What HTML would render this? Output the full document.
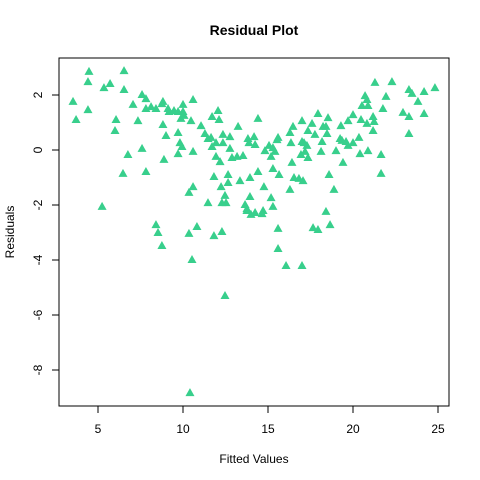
<!DOCTYPE html>
<html><head><meta charset="utf-8"><style>
body{margin:0;background:#fff}
svg{display:block;font-family:"Liberation Sans",Arial,sans-serif}
</style></head><body>
<svg id="chart" width="480" height="480">
<text x="254" y="35" text-anchor="middle" font-size="14" font-weight="bold">Residual Plot</text>
<rect x="59" y="58" width="390" height="348" fill="none" stroke="#000" stroke-width="1"/>
<g id="xaxis"></g>
<g id="yaxis"></g>
<g id="points"></g>
<text x="254" y="463" text-anchor="middle" font-size="12">Fitted Values</text>
<text transform="translate(14,232) rotate(-90)" text-anchor="middle" font-size="12">Residuals</text>
</svg>
<script>
const xTicks=[5,10,15,20,25];
const yTicks=[2,0,-2,-4,-6,-8];
const fitted=[4.47,6.53,4.41,5.71,5.35,6.53,3.53,4.41,3.71,6.06,6.0,7.59,7.82,7.06,8.12,7.82,8.41,8.82,8.76,7.35,10.59,10.0,9.12,9.18,9.47,9.71,10.0,10.06,9.88,10.47,8.82,9.0,9.71,9.82,9.94,9.71,10.59,8.88,7.59,6.76,6.47,7.82,5.24,8.41,8.53,8.76,10.35,10.82,10.53,12.06,11.71,12.12,11.06,13.24,11.29,11.47,11.65,11.94,12.35,12.76,12.35,11.71,12.76,11.94,12.18,12.88,13.18,13.53,13.82,14.18,13.88,14.24,14.41,11.82,12.65,12.65,12.24,13.35,13.94,14.41,10.59,10.35,11.47,12.47,12.29,12.53,13.94,13.65,13.76,13.76,14.24,14.0,12.29,11.82,12.47,10.41,21.29,22.29,23.29,23.47,24.18,24.82,20.71,20.82,21.94,23.82,20.53,20.88,21.76,22.94,23.29,24.18,21.18,21.24,20.82,20.47,20.0,19.71,19.29,21.18,23.29,17.94,18.53,17.0,17.59,16.47,18.24,18.41,17.35,16.29,17.76,18.47,15.59,15.53,19.24,19.35,19.59,20.0,20.35,16.35,17.0,17.12,17.29,18.18,19.71,19.0,18.12,17.18,16.94,17.35,20.41,20.88,21.65,15.06,15.29,14.82,15.41,15.18,16.41,19.41,21.65,15.29,15.65,18.59,16.53,16.82,17.06,14.76,16.29,18.88,15.18,15.29,14.71,14.65,18.41,18.65,17.65,17.94,15.59,15.59,16.06,17.0];
const residuals=[2.84,2.87,2.47,2.40,2.25,2.18,1.75,1.45,1.09,1.09,0.69,2.0,1.85,1.64,1.56,1.49,1.49,1.75,1.67,1.05,1.82,1.64,1.49,1.38,1.42,1.38,1.38,1.24,1.13,1.05,0.91,0.51,0.62,0.25,0.11,-0.15,-0.07,-0.36,0.04,-0.18,-0.87,-0.80,-2.07,-2.73,-3.02,-3.49,-3.05,-2.80,-4.0,1.42,1.2,1.09,0.87,0.84,0.58,0.4,0.44,0.25,0.55,0.47,0.25,0.11,0.04,-0.25,-0.44,-0.29,-0.25,-0.22,0.4,0.47,0.25,0.18,1.13,-0.98,-0.91,-1.2,-1.35,-1.13,-1.02,-0.8,-1.35,-1.56,-1.93,-1.67,-1.93,-1.93,-1.71,-2.0,-2.15,-2.22,-2.29,-2.36,-2.98,-3.13,-5.31,-8.84,2.44,2.47,2.18,2.04,2.11,2.25,1.96,1.82,1.93,1.75,1.6,1.6,1.49,1.35,1.2,1.31,1.2,1.02,0.95,1.09,1.27,1.05,0.87,0.69,0.58,1.31,1.16,1.05,0.95,0.84,0.84,0.84,0.69,0.62,0.55,0.58,0.44,0.36,0.4,0.33,0.29,0.25,0.44,0.25,0.29,0.25,0.15,0.29,0.15,-0.04,-0.07,-0.07,-0.18,-0.29,-0.15,-0.04,-0.18,0.15,0.07,-0.04,-0.07,-0.25,-0.47,-0.47,-0.87,-0.69,-0.91,-0.91,-1.02,-1.05,-1.13,-1.35,-1.45,-1.45,-1.75,-2.07,-2.22,-2.33,-2.25,-2.73,-2.84,-2.91,-2.87,-3.6,-4.22,-4.22];
const NS="http://www.w3.org/2000/svg";
function sx(v){return 13+v*17;}
function sy(v){return 150-v*27.5;}
function mk(tag,attrs,parent){const e=document.createElementNS(NS,tag);for(const k in attrs)e.setAttribute(k,attrs[k]);parent.appendChild(e);return e;}
const xa=document.getElementById('xaxis'),ya=document.getElementById('yaxis'),pts=document.getElementById('points');
mk('line',{x1:sx(xTicks[0]),x2:sx(xTicks[xTicks.length-1]),y1:406,y2:406,stroke:'#000'},xa);
xTicks.forEach(t=>{
  const l=mk('line',{x1:sx(t),x2:sx(t),y1:406,y2:413,stroke:'#000'},xa);
  
  
  const tx=mk('text',{x:sx(t),y:433,'text-anchor':'middle','font-size':12},xa);
  tx.textContent=t;
  
  
});
mk('line',{x1:59,x2:59,y1:sy(yTicks[0]),y2:sy(yTicks[yTicks.length-1]),stroke:'#000'},ya);
yTicks.forEach(t=>{
  const l=mk('line',{x1:52,x2:59,y1:sy(t),y2:sy(t),stroke:'#000'},ya);
  
  
  const tx=mk('text',{transform:`translate(42,${sy(t)}) rotate(-90)`,'text-anchor':'middle','font-size':12},ya);
  tx.textContent=t;
  
  
});
fitted.forEach((f,i)=>{
  const x=sx(f),y=sy(residuals[i]);
  const p=mk('polygon',{points:`${x},${y-5} ${x-4.5},${y+3} ${x+4.5},${y+3}`,fill:'#38cf8c'},pts);
  
  
});
</script>
</body></html>
